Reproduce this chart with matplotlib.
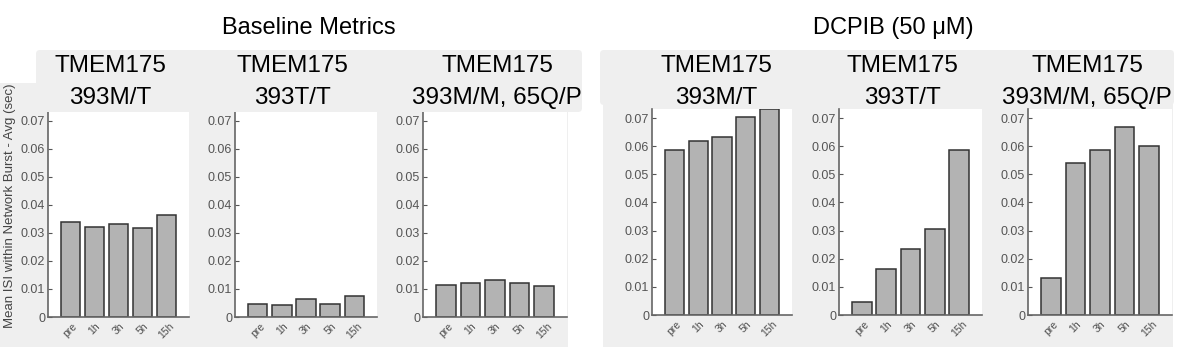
import matplotlib
matplotlib.use("Agg")
import matplotlib.pyplot as plt
from matplotlib.patches import FancyBboxPatch

plt.rcParams['font.family'] = ['Liberation Sans', 'DejaVu Sans']

# data
time_points = ['pre', '1h', '3h', '5h', '15h']
genotypes = ['393M/T', '393T/T', '393M/M, 65Q/P']
baseline_vals = [
    [0.0338, 0.0322, 0.0331, 0.0319, 0.0366],
    [0.0048, 0.0043, 0.0063, 0.0048, 0.0074],
    [0.0116, 0.0123, 0.0131, 0.0123, 0.0112],
]
dcpib_vals = [
    [0.0585, 0.0620, 0.0632, 0.0705, 0.0732],
    [0.0047, 0.0163, 0.0233, 0.0306, 0.0585],
    [0.0133, 0.0541, 0.0588, 0.0669, 0.0600],
]
y_ticks = [0, 0.01, 0.02, 0.03, 0.04, 0.05, 0.06, 0.07]
y_tick_labels = ['0', '0.01', '0.02', '0.03', '0.04', '0.05', '0.06', '0.07']
group_titles = ['Baseline Metrics', 'DCPIB (50 \u03bcM)']
ylabel = 'Mean ISI within Network Burst - Avg (sec)'

W, H = 1184, 358
DPI = 100
PANEL = '#efefef'

fig = plt.figure(figsize=(W / DPI, H / DPI), dpi=DPI)
fig.patch.set_facecolor('white')


def rect_px(x0, x1, ytop, ybot):
    return [x0 / W, 1 - ybot / H, (x1 - x0) / W, (ybot - ytop) / H]


def panel(x0, x1, ytop, ybot, z, rounded=True):
    # drawn in inches so rounding stays circular
    style = 'round,pad=0,rounding_size=0.04' if rounded else 'square,pad=0'
    p = FancyBboxPatch((x0 / DPI, (H - ybot) / DPI), (x1 - x0) / DPI, (ybot - ytop) / DPI,
                       boxstyle=style, transform=fig.dpi_scale_trans,
                       facecolor=PANEL, edgecolor='none', zorder=z)
    fig.patches.append(p)


# grey backgrounds behind the plots
panel(0, 568, 83, 347, -1, rounded=False)
panel(603, 1173, 100, 347, -1, rounded=False)
# header boxes on top of the axes
panel(36, 582, 50, 112, 5)
panel(600, 1174, 50, 105, 5)

# axes positions in pixels: (x0, x1, ytop, ybot)
left_axes = [(48, 189, 112, 317), (235, 377, 112, 317), (423, 567, 112, 317)]
right_axes = [(652, 792, 109, 315), (839, 982, 109, 315), (1028, 1172, 109, 315)]
header_x = [110, 292, 497, 716, 902, 1087]

x = list(range(1, len(time_points) + 1))
for pos, vals in zip(left_axes + right_axes, baseline_vals + dcpib_vals):
    ax = fig.add_axes(rect_px(*pos))
    ax.set_zorder(1)
    ax.set_facecolor('white')
    ax.bar(x, vals, width=0.8, color='#b3b3b3', edgecolor='#333333', linewidth=1.1, zorder=2)
    ax.set_xlim(0.06, 5.94)
    ax.set_ylim(0, 0.0732)
    ax.set_yticks(y_ticks)
    ax.set_yticklabels(y_tick_labels)
    ax.set_xticks(x)
    ax.set_xticklabels(time_points, rotation=45, ha='center', fontsize=7.5, color='#4d4d4d')
    ax.tick_params(axis='y', direction='in', length=3, width=0.8, colors='#555555',
                   labelsize=9, pad=2)
    ax.tick_params(axis='x', length=0, pad=3)
    for s in ['top', 'right']:
        ax.spines[s].set_visible(False)
    for s in ['left', 'bottom']:
        ax.spines[s].set_color('#666666')
        ax.spines[s].set_linewidth(1.2)

for i, cx in enumerate(header_x):
    fig.text(cx / W, 1 - 66 / H, 'TMEM175', ha='center', va='center', fontsize=17.5, zorder=6)
    fig.text(cx / W, 1 - 98 / H, genotypes[i % 3], ha='center', va='center', fontsize=17.5, zorder=6)

fig.text(309 / W, 1 - 28 / H, group_titles[0], ha='center', va='center', fontsize=17)
fig.text(893 / W, 1 - 28 / H, group_titles[1], ha='center', va='center', fontsize=17)

fig.text(10 / W, 1 - 206 / H, ylabel, rotation=90, ha='center', va='center',
         fontsize=9.5, color='#444444')

fig.savefig('out.png', dpi=DPI, facecolor='white')
